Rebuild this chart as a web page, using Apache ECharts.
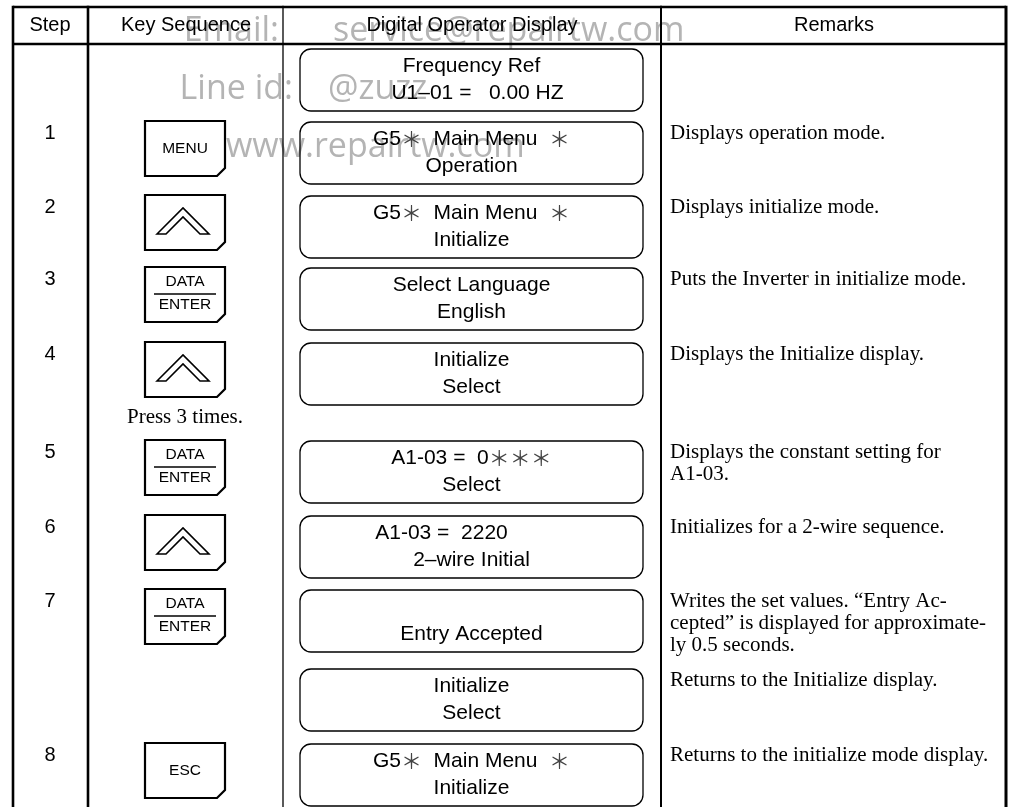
<!DOCTYPE html>
<html><head><meta charset="utf-8">
<script src="https://cdn.jsdelivr.net/npm/echarts@6/dist/echarts.min.js"></script>
<style>html,body{margin:0;padding:0;background:#fff}#c{width:1011px;height:807px}</style>
</head><body><div id="c"></div>
<script>
// ---------- data ----------
const headers = ['Step', 'Key Sequence', 'Digital Operator Display', 'Remarks'];
const steps = ['', '1', '2', '3', '4', '5', '6', '7', '', '8'];
const keys = ['', 'MENU', 'UP', 'DATA/ENTER', 'UP', 'DATA/ENTER', 'UP', 'DATA/ENTER', '', 'ESC'];
const keyNotes = ['', '', '', '', 'Press 3 times.', '', '', '', '', ''];
const displayLine1 = ['Frequency Ref', 'G5＊  Main Menu  ＊', 'G5＊  Main Menu  ＊', 'Select Language', 'Initialize',
  'A1-03 =  0＊＊＊', 'A1-03 =  2220', '', 'Initialize', 'G5＊  Main Menu  ＊'];
const displayLine2 = ['U1–01 =   0.00 HZ', 'Operation', 'Initialize', 'English', 'Select', 'Select',
  '2–wire Initial', 'Entry Accepted', 'Select', 'Initialize'];
const remarks = [
  [],
  ['Displays operation mode.'],
  ['Displays initialize mode.'],
  ['Puts the Inverter in initialize mode.'],
  ['Displays the Initialize display.'],
  ['Displays the constant setting for', 'A1-03.'],
  ['Initializes for a 2-wire sequence.'],
  ['Writes the set values. \u201CEntry Ac-', 'cepted\u201D is displayed for approximate-', 'ly 0.5 seconds.'],
  ['Returns to the Initialize display.'],
  ['Returns to the initialize mode display.']
];
const watermark = ['Email:', 'service@repairtw.com', 'Line id:', '@zuzz', 'www.repairtw.com'];

// ---------- layout (positions / sizes, not data) ----------
const W = 1011, H = 807;
const colX = [13, 88, 283, 661, 1006];
const colW = [2.6, 2.6, 1.3, 2, 3];
const tableTop = 7, headerBottom = 44;
const rowTop = [49, 122, 196, 268, 343, 441, 516, 590, 669, 744];
const boxX0 = 300, boxX1 = 643, boxH = 62;
const keyX0 = 145, keyX1 = 225, keyH = 55;
const line1Off = [0, 0, 0, 0, 0, 0, -30, 0, 0, 0];
const line2Off = [6, 0, 0, 0, 0, 0, 0, 0, 0, 0];
const SANS = '"Liberation Sans", Arial, "Noto Sans CJK JP", sans-serif';
const SERIF = '"Liberation Serif", "Times New Roman", serif';
const richDisp = {
  n: { font: '21px ' + SANS, fill: '#000' },
  a: { font: '21px "Noto Sans CJK JP", sans-serif', fill: '#444' }
};

const rowData = steps.map((s, i) => [i]);

function dispText(t) {
  return t.split('＊').map(s => s ? '{n|' + s + '}' : '').join('{a|＊}');
}

function renderRow(params, api) {
  const i = api.value(0);
  const P = (x, y) => api.coord([x, y]);
  const children = [];
  const top = rowTop[i];
  // step number
  if (steps[i]) {
    const p = P(50, top + 11);
    children.push({ type: 'text', style: { x: p[0], y: p[1], text: steps[i], font: '20px ' + SANS, fill: '#000', align: 'center', verticalAlign: 'middle' } });
  }
  // key
  const k = keys[i];
  if (k) {
    const kt = top - 1;
    const a = P(keyX0, kt), b = P(keyX1, kt + keyH);
    const c = 8;
    children.push({ type: 'polygon', shape: { points: [[a[0], a[1]], [b[0], a[1]], [b[0], b[1] - c], [b[0] - c, b[1]], [a[0], b[1]]] },
      style: { fill: '#fff', stroke: '#000', lineWidth: 2.2 } });
    const cx = (a[0] + b[0]) / 2;
    if (k === 'UP') {
      const pts = [[157, 39], [183, 13], [209, 39], [200, 39], [183, 22], [166, 39]].map(q => P(q[0], kt + q[1]));
      children.push({ type: 'polygon', shape: { points: pts }, style: { fill: '#fff', stroke: '#000', lineWidth: 1.6, lineJoin: 'miter' } });
    } else if (k === 'DATA/ENTER') {
      const p1 = P(0, kt + 15), p2 = P(0, kt + 38), l1 = P(154, kt + 27), l2 = P(216, kt + 27);
      children.push({ type: 'text', style: { x: cx, y: p1[1], text: 'DATA', font: '15.5px ' + SANS, fill: '#000', align: 'center', verticalAlign: 'middle' } });
      children.push({ type: 'line', shape: { x1: l1[0], y1: l1[1], x2: l2[0], y2: l2[1] }, style: { stroke: '#000', lineWidth: 1.6 } });
      children.push({ type: 'text', style: { x: cx, y: p2[1], text: 'ENTER', font: '15.5px ' + SANS, fill: '#000', align: 'center', verticalAlign: 'middle' } });
    } else {
      const p = P(0, kt + 28);
      children.push({ type: 'text', style: { x: cx, y: p[1], text: k, font: '15.5px ' + SANS, fill: '#000', align: 'center', verticalAlign: 'middle' } });
    }
  }
  if (keyNotes[i]) {
    const p = P(185, 417);
    children.push({ type: 'text', style: { x: p[0], y: p[1], text: keyNotes[i], font: '21px ' + SERIF, fill: '#000', align: 'center', verticalAlign: 'middle' } });
  }
  // display box
  const d0 = P(boxX0, top), d1 = P(boxX1, top + boxH);
  children.push({ type: 'rect', shape: { x: d0[0], y: d0[1], width: d1[0] - d0[0], height: d1[1] - d0[1], r: 11 },
    style: { fill: 'none', stroke: '#000', lineWidth: 1.3 } });
  const dcx = (d0[0] + d1[0]) / 2;
  if (displayLine1[i]) {
    const p = P(0, top + 17);
    children.push({ type: 'text', style: { x: dcx + line1Off[i], y: p[1], text: dispText(displayLine1[i]), rich: richDisp, font: '21px ' + SANS, fill: '#000', align: 'center', verticalAlign: 'middle' } });
  }
  if (displayLine2[i]) {
    const p = P(0, top + 44);
    children.push({ type: 'text', style: { x: dcx + line2Off[i], y: p[1], text: displayLine2[i], font: '21px ' + SANS, fill: '#000', align: 'center', verticalAlign: 'middle' } });
  }
  // remarks
  remarks[i].forEach((r, j) => {
    const p = P(670, top + 11 + j * 22);
    children.push({ type: 'text', style: { x: p[0], y: p[1], text: r, font: '21px ' + SERIF, fill: '#000', align: 'left', verticalAlign: 'middle' } });
  });
  return { type: 'group', children };
}

// frame + header + watermark via graphic
const graphics = [];
const wmStyle = { font: '34px "Open Sans", sans-serif', fill: '#b4b4b4', verticalAlign: 'middle' };
graphics.push({ type: 'text', z: 0, style: Object.assign({ x: 279, y: 31, text: watermark[0], align: 'right' }, wmStyle) });
graphics.push({ type: 'text', z: 0, style: Object.assign({ x: 333, y: 31, text: watermark[1], align: 'left' }, wmStyle) });
graphics.push({ type: 'text', z: 0, style: Object.assign({ x: 293, y: 89, text: watermark[2], align: 'right' }, wmStyle) });
graphics.push({ type: 'text', z: 0, style: Object.assign({ x: 328, y: 89, text: watermark[3], align: 'left' }, wmStyle) });
graphics.push({ type: 'text', z: 0, style: Object.assign({ x: 226, y: 147, text: watermark[4], align: 'left' }, wmStyle) });

colX.forEach((x, j) => {
  graphics.push({ type: 'line', z: 10, shape: { x1: x, y1: tableTop - 1.3, x2: x, y2: H + 5 }, style: { stroke: '#000', lineWidth: colW[j] } });
});
graphics.push({ type: 'line', z: 10, shape: { x1: colX[0], y1: tableTop, x2: colX[4], y2: tableTop }, style: { stroke: '#000', lineWidth: 2.6 } });
graphics.push({ type: 'line', z: 10, shape: { x1: colX[0], y1: headerBottom, x2: colX[4], y2: headerBottom }, style: { stroke: '#000', lineWidth: 2.6 } });
const headerCx = [50, 186, 472, 834];
headers.forEach((h, j) => {
  graphics.push({ type: 'text', z: 10, style: { x: headerCx[j], y: 25, text: h, font: '20px ' + SANS, fill: '#000', align: 'center', verticalAlign: 'middle' } });
});

const chart = echarts.init(document.getElementById('c'), null, { renderer: 'canvas', width: W, height: H });
chart.setOption({
  animation: false,
  backgroundColor: '#fff',
  grid: { left: 0, right: 0, top: 0, bottom: 0 },
  xAxis: { type: 'value', min: 0, max: W, show: false },
  yAxis: { type: 'value', min: 0, max: H, inverse: true, show: false },
  graphic: graphics,
  series: [{
    type: 'custom',
    renderItem: renderRow,
    data: rowData,
    z: 5,
    silent: true
  }]
});
</script></body></html>
